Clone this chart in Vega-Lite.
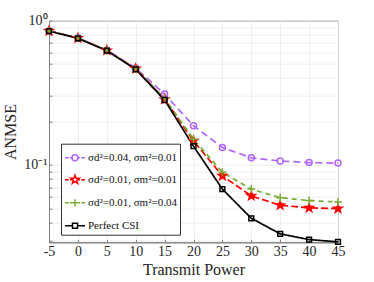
{
  "$schema": "https://vega.github.io/schema/vega-lite/v6.json",
  "width": 289,
  "height": 221.6,
  "autosize": "none",
  "padding": {"left": 49, "top": 20.7, "right": 36, "bottom": 39.7},
  "config": {
    "font": "Liberation Serif",
    "view": {"stroke": "#808080", "strokeWidth": 1},
    "axis": {
      "domainColor": "#808080",
      "tickColor": "#808080",
      "gridColor": "#ebebeb",
      "gridWidth": 0.8,
      "labelFont": "Liberation Serif",
      "titleFont": "Liberation Serif",
      "labelColor": "#262626",
      "titleColor": "#262626",
      "labelFontSize": 14,
      "titleFontSize": 16,
      "titleFontWeight": "normal",
      "labelFlush": false,
      "labelOverlap": false
    },
    "legend": {
      "labelFont": "Liberation Serif",
      "labelFontSize": 11,
      "labelColor": "#111",
      "strokeColor": "#333",
      "fillColor": "white",
      "padding": 3,
      "rowPadding": 5,
      "cornerRadius": 0,
      "labelOffset": 2,
      "symbolSize": 400,
      "symbolStrokeWidth": 1.5
    }
  },
  "datasets": {
    "d": [
      {"x": -5, "y": 0.85, "s": "σd²=0.04, σm²=0.01"},
      {"x": 0, "y": 0.76, "s": "σd²=0.04, σm²=0.01"},
      {"x": 5, "y": 0.625, "s": "σd²=0.04, σm²=0.01"},
      {"x": 10, "y": 0.47, "s": "σd²=0.04, σm²=0.01"},
      {"x": 15, "y": 0.31, "s": "σd²=0.04, σm²=0.01"},
      {"x": 20, "y": 0.187, "s": "σd²=0.04, σm²=0.01"},
      {"x": 25, "y": 0.132, "s": "σd²=0.04, σm²=0.01"},
      {"x": 30, "y": 0.112, "s": "σd²=0.04, σm²=0.01"},
      {"x": 35, "y": 0.1066, "s": "σd²=0.04, σm²=0.01"},
      {"x": 40, "y": 0.1038, "s": "σd²=0.04, σm²=0.01"},
      {"x": 45, "y": 0.103, "s": "σd²=0.04, σm²=0.01"},
      {"x": -5, "y": 0.85, "s": "σd²=0.01, σm²=0.01"},
      {"x": 0, "y": 0.757, "s": "σd²=0.01, σm²=0.01"},
      {"x": 5, "y": 0.622, "s": "σd²=0.01, σm²=0.01"},
      {"x": 10, "y": 0.465, "s": "σd²=0.01, σm²=0.01"},
      {"x": 15, "y": 0.285, "s": "σd²=0.01, σm²=0.01"},
      {"x": 20, "y": 0.147, "s": "σd²=0.01, σm²=0.01"},
      {"x": 25, "y": 0.084, "s": "σd²=0.01, σm²=0.01"},
      {"x": 30, "y": 0.061, "s": "σd²=0.01, σm²=0.01"},
      {"x": 35, "y": 0.0526, "s": "σd²=0.01, σm²=0.01"},
      {"x": 40, "y": 0.0504, "s": "σd²=0.01, σm²=0.01"},
      {"x": 45, "y": 0.0498, "s": "σd²=0.01, σm²=0.01"},
      {"x": -5, "y": 0.85, "s": "σd²=0.01, σm²=0.04"},
      {"x": 0, "y": 0.757, "s": "σd²=0.01, σm²=0.04"},
      {"x": 5, "y": 0.622, "s": "σd²=0.01, σm²=0.04"},
      {"x": 10, "y": 0.465, "s": "σd²=0.01, σm²=0.04"},
      {"x": 15, "y": 0.29, "s": "σd²=0.01, σm²=0.04"},
      {"x": 20, "y": 0.151, "s": "σd²=0.01, σm²=0.04"},
      {"x": 25, "y": 0.089, "s": "σd²=0.01, σm²=0.04"},
      {"x": 30, "y": 0.068, "s": "σd²=0.01, σm²=0.04"},
      {"x": 35, "y": 0.0593, "s": "σd²=0.01, σm²=0.04"},
      {"x": 40, "y": 0.0566, "s": "σd²=0.01, σm²=0.04"},
      {"x": 45, "y": 0.0554, "s": "σd²=0.01, σm²=0.04"},
      {"x": -5, "y": 0.848, "s": "Perfect CSI"},
      {"x": 0, "y": 0.755, "s": "Perfect CSI"},
      {"x": 5, "y": 0.62, "s": "Perfect CSI"},
      {"x": 10, "y": 0.46, "s": "Perfect CSI"},
      {"x": 15, "y": 0.282, "s": "Perfect CSI"},
      {"x": 20, "y": 0.135, "s": "Perfect CSI"},
      {"x": 25, "y": 0.068, "s": "Perfect CSI"},
      {"x": 30, "y": 0.0427, "s": "Perfect CSI"},
      {"x": 35, "y": 0.0333, "s": "Perfect CSI"},
      {"x": 40, "y": 0.0304, "s": "Perfect CSI"},
      {"x": 45, "y": 0.0293, "s": "Perfect CSI"}
    ]
  },
  "layer": [
    {
      "data": {"name": "d"},
      "mark": {"type": "line", "strokeWidth": 1.7},
      "encoding": {
        "x": {
          "field": "x", "type": "quantitative",
          "scale": {"domain": [-5, 45], "nice": false},
          "axis": {"values": [-5, 0, 5, 10, 15, 20, 25, 30, 35, 40, 45], "tickCount": 20, "labelExpr": "'' + datum.value", "labelOverlap": false, "labelFlush": false, "title": "Transmit Power", "tickSize": -3, "labelPadding": 5, "titlePadding": 3, "grid": true}
        },
        "y": {
          "field": "y", "type": "quantitative",
          "scale": {"type": "log", "domain": [0.0291, 1], "nice": false},
          "axis": {
            "values": [0.03, 0.04, 0.05, 0.06, 0.07, 0.08, 0.09, 0.1, 0.2, 0.3, 0.4, 0.5, 0.6, 0.7, 0.8, 0.9, 1],
            "tickCount": 30,
            "labelExpr": "abs(datum.value - 1) < 1e-6 ? '10⁰' : abs(datum.value - 0.1) < 1e-6 ? '10⁻¹' : ''",
            "labelOverlap": false,
            "title": "ANMSE", "tickSize": -3, "labelPadding": 5, "titlePadding": 5, "grid": true
          }
        },
        "color": {
          "field": "s", "type": "nominal",
          "scale": {"domain": ["σd²=0.04, σm²=0.01", "σd²=0.01, σm²=0.01", "σd²=0.01, σm²=0.04", "Perfect CSI"], "range": ["#B266FF", "#FF0000", "#77AC30", "#000000"]},
          "legend": null
        },
        "strokeDash": {
          "field": "s", "type": "nominal",
          "scale": {"domain": ["σd²=0.04, σm²=0.01", "σd²=0.01, σm²=0.01", "σd²=0.01, σm²=0.04", "Perfect CSI"], "range": [[7, 4], [7, 3], [5, 4], [1, 0]]},
          "legend": null
        }
      }
    },
    {
      "data": {"name": "d"},
      "mark": {"type": "point", "filled": false, "strokeWidth": 1.5, "size": 64, "opacity": 1},
      "encoding": {
        "x": {"field": "x", "type": "quantitative"},
        "y": {"field": "y", "type": "quantitative"},
        "color": {
          "field": "s", "type": "nominal",
          "scale": {"domain": ["σd²=0.04, σm²=0.01", "σd²=0.01, σm²=0.01", "σd²=0.01, σm²=0.04", "Perfect CSI"], "range": ["#B266FF", "#FF0000", "#77AC30", "#000000"]},
          "legend": null
        },
        "fill": {
          "field": "s", "type": "nominal",
          "scale": {"domain": ["σd²=0.04, σm²=0.01", "σd²=0.01, σm²=0.01", "σd²=0.01, σm²=0.04", "Perfect CSI"], "range": ["transparent", "#FF0000", "transparent", "transparent"]},
          "legend": null
        },
        "shape": {
          "field": "s", "type": "nominal",
          "scale": {"domain": ["σd²=0.04, σm²=0.01", "σd²=0.01, σm²=0.01", "σd²=0.01, σm²=0.04", "Perfect CSI"], "range": [
            "M-0.75,0A0.75,0.75 0 1,1 0.75,0A0.75,0.75 0 1,1 -0.75,0Z",
            "M0,-1.1L0.259,-0.356L1.046,-0.34L0.418,0.136L0.647,0.89L0,0.44L-0.647,0.89L-0.418,0.136L-1.046,-0.34L-0.259,-0.356Z",
            "M-1,0L1,0M0,-1L0,1",
            "M-0.6,-0.6L0.6,-0.6L0.6,0.6L-0.6,0.6Z"
          ]},
          "legend": null
        }
      }
    },
    {
      "data": {"name": "d"},
      "transform": [{"filter": "false"}],
      "mark": {"type": "point", "filled": false, "strokeWidth": 1.5, "size": 400, "opacity": 1},
      "encoding": {
        "x": {"field": "x", "type": "quantitative"},
        "y": {"field": "y", "type": "quantitative"},
        "color": {
          "field": "s", "type": "nominal",
          "scale": {"domain": ["σd²=0.04, σm²=0.01", "σd²=0.01, σm²=0.01", "σd²=0.01, σm²=0.04", "Perfect CSI"], "range": ["#B266FF", "#FF0000", "#77AC30", "#000000"]},
          "legend": {"title": null, "orient": "none", "legendX": 12, "legendY": 123, "labelFont": "Liberation Serif",
            "encode": {
              "symbols": {"update": {"fill": {"signal": "datum.value === 'σd²=0.01, σm²=0.01' ? '#FF0000' : 'transparent'"}}},
              "labels": {"update": {"font": {"value": "Liberation Serif"}, "fontSize": {"value": 11}}}
            }}
        },
        "shape": {
          "field": "s", "type": "nominal",
          "scale": {"domain": ["σd²=0.04, σm²=0.01", "σd²=0.01, σm²=0.01", "σd²=0.01, σm²=0.04", "Perfect CSI"], "range": [
            "M-1,0L-0.62,0M-0.5,0L-0.3,0M0.3,0L0.5,0M0.62,0L1,0M-0.3,0A0.3,0.3 0 1,1 0.3,0A0.3,0.3 0 1,1 -0.3,0Z",
            "M-1,0L-0.62,0M-0.5,0L-0.3,0M0.3,0L0.5,0M0.62,0L1,0M0,-0.45L0.106,-0.146L0.428,-0.139L0.171,0.056L0.265,0.364L0,0.18L-0.265,0.364L-0.171,0.056L-0.428,-0.139L-0.106,-0.146Z",
            "M-1,0L-0.62,0M-0.5,0L-0.3,0M0.3,0L0.5,0M0.62,0L1,0M-0.35,0L0.35,0M0,-0.35L0,0.35",
            "M-1,0L-0.25,0M0.25,0L1,0M-0.25,-0.25L0.25,-0.25L0.25,0.25L-0.25,0.25Z"
          ]},
          "legend": {"title": null, "orient": "none", "legendX": 12, "legendY": 123, "labelFont": "Liberation Serif",
            "encode": {
              "symbols": {"update": {"fill": {"signal": "datum.value === 'σd²=0.01, σm²=0.01' ? '#FF0000' : 'transparent'"}}},
              "labels": {"update": {"font": {"value": "Liberation Serif"}, "fontSize": {"value": 11}}}
            }}
        }
      }
    }
  ],
  "resolve": {"scale": {"color": "independent", "shape": "independent", "fill": "independent", "strokeDash": "independent"}}
}
